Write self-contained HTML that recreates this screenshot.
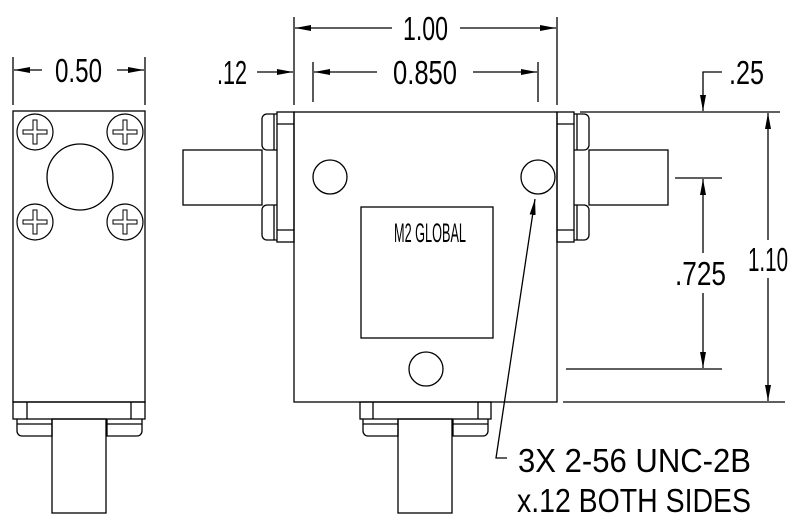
<!DOCTYPE html>
<html><head><style>html,body{margin:0;padding:0;background:#fff;}svg{display:block}</style></head>
<body>
<svg width="800" height="530" viewBox="0 0 800 530" xmlns="http://www.w3.org/2000/svg">
<defs>
<marker id="a" viewBox="0 0 16 6" refX="16" refY="3" markerWidth="16" markerHeight="6" markerUnits="userSpaceOnUse" orient="auto"><path d="M0,0L16,3L0,6Z" fill="#000"/></marker>
<g id="scr" fill="none" stroke="#000" stroke-width="1.2"><circle r="18"/><path d="M-2,-12h4v10h10v4h-10v10h-4v-10h-10v-4h10z" stroke-width="1"/></g>
</defs>
<g fill="none" stroke="#000" stroke-width="1.3">
<rect x="13" y="111" width="132" height="291"/>
<line x1="13" y1="57" x2="13" y2="105"/><line x1="145" y1="57" x2="145" y2="105"/>
<line x1="42" y1="70" x2="14" y2="70" marker-end="url(#a)"/>
<line x1="117" y1="70" x2="144" y2="70" marker-end="url(#a)"/>
<circle cx="80" cy="177" r="33"/>
<use href="#scr" x="35" y="132"/><use href="#scr" x="125" y="132"/><use href="#scr" x="35" y="222"/><use href="#scr" x="125" y="222"/>
<rect x="13" y="402" width="132" height="17"/>
<line x1="27" y1="402" x2="27" y2="419"/><line x1="131" y1="402" x2="131" y2="419"/>
<path d="M17,419v12a5,5 0 0 0 5,5h30v-17"/><path d="M142,419v12a5,5 0 0 1 -5,5h-30v-17"/>
<line x1="17" y1="424" x2="52" y2="424"/><line x1="107" y1="424" x2="142" y2="424"/>
<rect x="52" y="419" width="54" height="94"/>

<rect x="294" y="112" width="263" height="290"/>
<rect x="277" y="112" width="17" height="130"/><line x1="277" y1="124" x2="294" y2="124"/><line x1="277" y1="230" x2="294" y2="230"/>
<rect x="557" y="112" width="17" height="130"/><line x1="557" y1="124" x2="574" y2="124"/><line x1="557" y1="230" x2="574" y2="230"/>
<path d="M277,114h-10a5,5 0 0 0 -5,5v26a5,5 0 0 0 5,5h10"/><path d="M277,205h-10a5,5 0 0 0 -5,5v25a5,5 0 0 0 5,5h10"/>
<line x1="274" y1="114" x2="274" y2="150"/><line x1="274" y1="205" x2="274" y2="240"/>
<path d="M574,114h10a5,5 0 0 1 5,5v26a5,5 0 0 1 -5,5h-10"/><path d="M574,205h10a5,5 0 0 1 5,5v25a5,5 0 0 1 -5,5h-10"/>
<line x1="577" y1="114" x2="577" y2="150"/><line x1="577" y1="205" x2="577" y2="240"/>
<rect x="183" y="150" width="79" height="55"/>
<rect x="589" y="150" width="79" height="55"/>
<circle cx="330" cy="177" r="17"/><circle cx="538" cy="177" r="17"/><circle cx="426" cy="369" r="17"/>
<rect x="361" y="207" width="132" height="131"/>
<rect x="360" y="402" width="131" height="17"/>
<line x1="373" y1="402" x2="373" y2="419"/><line x1="478" y1="402" x2="478" y2="419"/>
<path d="M363,419v12a5,5 0 0 0 5,5h30v-17"/><path d="M488,419v12a5,5 0 0 1 -5,5h-30v-17"/>
<line x1="363" y1="424" x2="398" y2="424"/><line x1="453" y1="424" x2="488" y2="424"/>
<rect x="398" y="419" width="54" height="94"/>
<path d="M507,458H496L535,199" marker-end="url(#a)"/>

<line x1="294" y1="17" x2="294" y2="105"/><line x1="557" y1="17" x2="557" y2="105"/>
<line x1="392" y1="28" x2="295" y2="28" marker-end="url(#a)"/>
<line x1="460" y1="28" x2="556" y2="28" marker-end="url(#a)"/>
<line x1="313" y1="62" x2="313" y2="102"/><line x1="538" y1="62" x2="538" y2="102"/>
<line x1="377" y1="72" x2="314" y2="72" marker-end="url(#a)"/>
<line x1="473" y1="72" x2="537" y2="72" marker-end="url(#a)"/>
<line x1="257" y1="72" x2="293" y2="72" marker-end="url(#a)"/>

<line x1="580" y1="112" x2="780" y2="112"/>
<line x1="563" y1="402" x2="785" y2="402"/>
<line x1="768" y1="240" x2="768" y2="113" marker-end="url(#a)"/>
<line x1="768" y1="278" x2="768" y2="401" marker-end="url(#a)"/>
<line x1="675" y1="178" x2="722" y2="178"/>
<line x1="566" y1="369" x2="722" y2="369"/>
<line x1="703" y1="253" x2="703" y2="179" marker-end="url(#a)"/>
<line x1="703" y1="293" x2="703" y2="368" marker-end="url(#a)"/>
<path d="M722,72h-19v39" marker-end="url(#a)"/>
</g>
<g font-family="Liberation Sans, sans-serif" font-size="33" fill="#000">
<text x="55" y="82" textLength="47" lengthAdjust="spacingAndGlyphs">0.50</text>
<text x="403" y="40" textLength="45" lengthAdjust="spacingAndGlyphs">1.00</text>
<text x="393" y="84" textLength="64" lengthAdjust="spacingAndGlyphs">0.850</text>
<text x="217" y="84" textLength="30" lengthAdjust="spacingAndGlyphs">.12</text>
<text x="729" y="84" textLength="35" lengthAdjust="spacingAndGlyphs">.25</text>
<text x="675" y="285" textLength="51" lengthAdjust="spacingAndGlyphs">.725</text>
<text x="748" y="271" textLength="40" lengthAdjust="spacingAndGlyphs">1.10</text>
<text x="518" y="472" textLength="233" lengthAdjust="spacingAndGlyphs">3X 2-56 UNC-2B</text>
<text x="517" y="512" textLength="234" lengthAdjust="spacingAndGlyphs">x.12 BOTH SIDES</text>
<text x="394" y="242" font-size="27" textLength="72" lengthAdjust="spacingAndGlyphs">M2 GLOBAL</text>
</g>
</svg>
</body></html>
